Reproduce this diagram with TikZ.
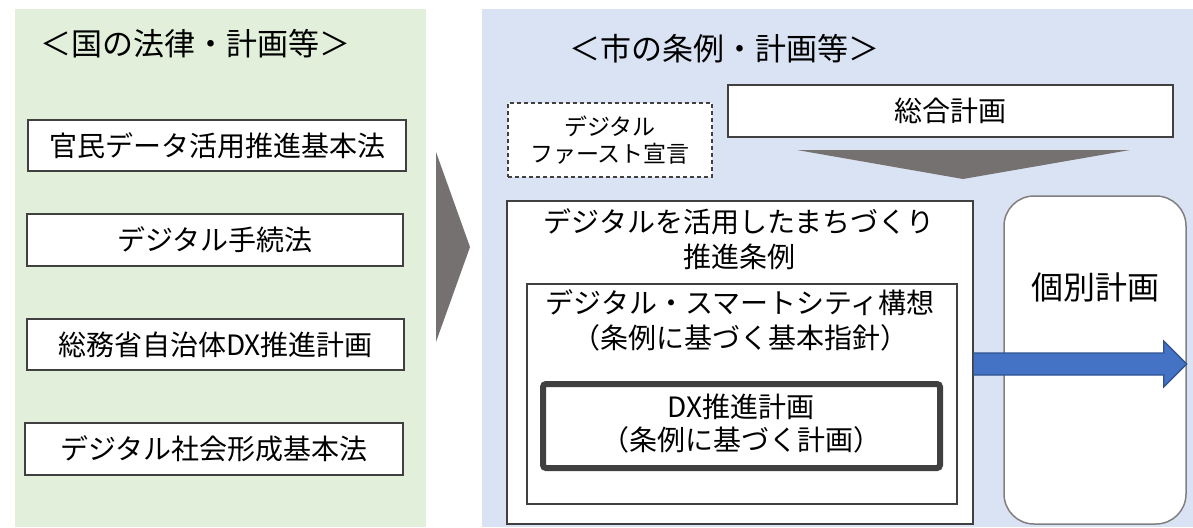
\documentclass[tikz,border=0pt]{standalone}
\usepackage{fontspec}
\setmainfont{Noto Sans CJK JP}
\usetikzlibrary{calc}
\definecolor{greenbg}{HTML}{E2EFDA}
\definecolor{bluebg}{HTML}{DAE3F3}
\definecolor{boxline}{HTML}{404040}
\definecolor{tri}{HTML}{767171}
\definecolor{arrfill}{HTML}{4472C4}
\definecolor{arrline}{HTML}{2F528F}
\definecolor{roundline}{HTML}{808080}
\newcommand{\fs}[2]{\fontsize{#1}{#2}\selectfont}
\tikzset{
  plainbox/.style={draw=boxline, fill=white, line width=1.3pt, inner sep=0pt},
  lawbox/.style={plainbox, font=\fs{28}{34}},
  dashbox/.style={draw=boxline, fill=white, line width=1.3pt, dash pattern=on 4pt off 3pt, inner sep=0pt, align=center, font=\fs{23}{27}},
  thickbox/.style={draw=boxline, fill=white, line width=6pt, rounded corners=3pt, inner sep=0pt},
  roundbox/.style={draw=roundline, fill=white, line width=1.5pt, rounded corners=30pt, inner sep=0pt},
  lbl/.style={inner sep=0pt, align=center, font=\fs{28}{35}},
  ttl/.style={inner sep=0pt, font=\fs{31}{35}},
  graytri/.style={fill=tri, draw=none},
  bluearrow/.style={fill=arrfill, draw=arrline, line width=1.2pt, line join=miter},
}
\begin{document}
\begin{tikzpicture}[x=1pt,y=-1pt]
\useasboundingbox (0,0) rectangle (1193,527);
% panels
\fill[greenbg] (15,9) rectangle (426,527);
\fill[bluebg] (482,9) rectangle (1193,527);
% titles
\node[ttl] (t1) at (195,44) {＜国の法律・計画等＞};
\node[ttl] (t2) at (724,49) {＜市の条例・計画等＞};
% left boxes
\node[lawbox, minimum width=378, minimum height=51] (l1) at (217,145.5) {官民データ活用推進基本法};
\node[lawbox, minimum width=376, minimum height=52] (l2) at (215,240) {デジタル手続法};
\node[lawbox, minimum width=377, minimum height=51] (l3) at (215.5,344.5) {総務省自治体DX推進計画};
\node[lawbox, minimum width=378, minimum height=52] (l4) at (214,449) {デジタル社会形成基本法};
% big right-pointing triangle
\fill[graytri] (436,152) -- (470,247) -- (436,342) -- cycle;
% dashed box
\node[dashbox, minimum width=204, minimum height=74] (df) at (610,140) {デジタル\\ファースト宣言};
% sougou keikaku
\node[lawbox, minimum width=445, minimum height=52] (sg) at (950.5,111) {総合計画};
% down triangle
\fill[graytri] (797,150) -- (1130,150) -- (963,179) -- cycle;
% big box
\node[plainbox, minimum width=466, minimum height=323] (jorei) at (740,362.5) {};
\node[lbl] (jtext) at (739,239.5) {デジタルを活用したまちづくり\\推進条例};
% inner box
\node[plainbox, minimum width=430, minimum height=220] (kouso) at (742,394) {};
\node[lbl] (ktext) at (740,320.5) {デジタル・スマートシティ構想\\（条例に基づく基本指針）};
% DX box
\node[thickbox, minimum width=397, minimum height=84] (dx) at (741.5,426) {};
\node[lbl, font=\fs{28}{33}] (dxtext) at (741,423.5) {DX推進計画\\（条例に基づく計画）};
% kobetsu keikaku
\node[roundbox, minimum width=182, minimum height=328] (kb) at (1095,360) {};
\node[inner sep=0pt, font=\fs{32}{36}] (kbtext) at (1095,287) {個別計画};
% blue arrow
\coordinate (as) at (jorei.east |- 0,364);
\coordinate (at) at (kb.east |- 0,364);
\draw[bluearrow] ($(as)+(0,-11)$) -- ($(at)+(-23,-11)$) -- ($(at)+(-23,-23)$) -- (at)
  -- ($(at)+(-23,23)$) -- ($(at)+(-23,11)$) -- ($(as)+(0,11)$);
\end{tikzpicture}
\end{document}
